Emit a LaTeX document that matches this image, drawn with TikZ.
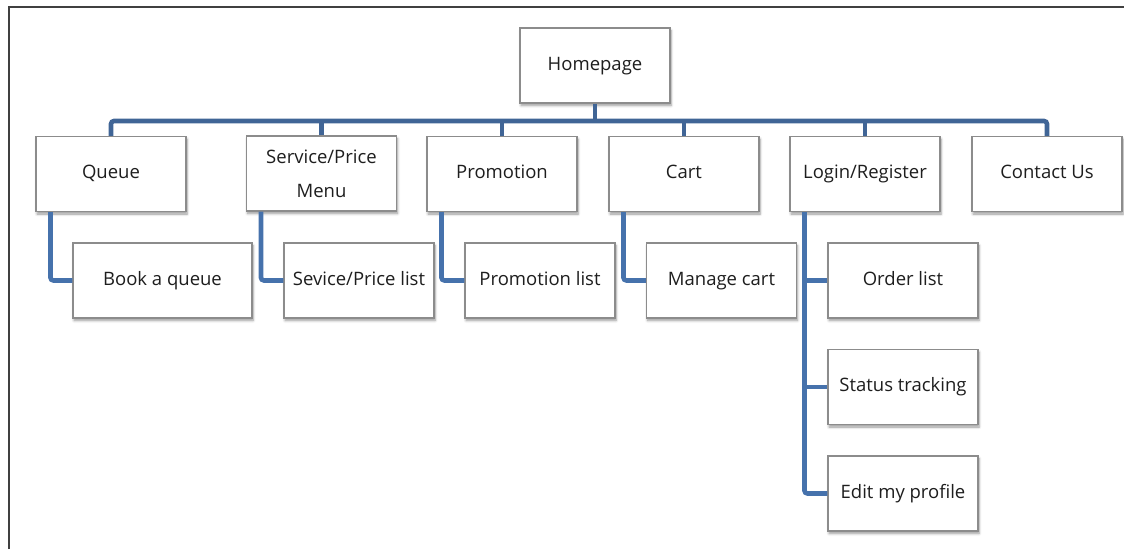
\documentclass[tikz,border=0pt]{standalone}
\usepackage{fontspec}
\setmainfont{Open Sans}
\usetikzlibrary{shadows.blur}
\definecolor{busblue}{RGB}{64,101,150}
\definecolor{subblue}{RGB}{70,114,172}
\definecolor{boxline}{RGB}{140,140,140}
\definecolor{ink}{RGB}{30,30,30}
\tikzset{
  page/.style={draw=boxline, line width=1.1pt, fill=white, inner sep=2pt,
    minimum width=150pt, minimum height=75pt, align=center, text=ink,
    text height=13.5pt, text depth=4pt,
    font=\fontsize{18.5}{34}\selectfont,
    blur shadow={shadow xshift=1pt, shadow yshift=-2.5pt, shadow blur radius=2.5pt,
      shadow blur steps=6, shadow opacity=40}},
  busline/.style={draw=busblue, line width=4.6pt, rounded corners=3pt},
  subline/.style={draw=subblue, line width=4.6pt, rounded corners=3pt},
  frame/.style={draw=black!75, line width=1.3pt}
}
\begin{document}
\begin{tikzpicture}[x=1pt, y=-1pt]
\useasboundingbox (0,0) rectangle (1124,549);
\draw[frame] (9,549) -- (9,7) -- (1124,7);

% top level
\node[page] (home) at (595,65.5) {Homepage};
\node[page] (queue) at (111,174) {Queue};
\node[page, text height=, text depth=] (service) at (321.5,173.5) {Service/Price\\Menu};
\node[page] (promo) at (502,174) {Promotion};
\node[page] (cart) at (684,174) {Cart};
\node[page] (login) at (865,174) {Login/Register};
\node[page] (contact) at (1047,174) {Contact Us};

% second level
\node[page, minimum width=179pt] (book) at (162.5,280.5) {Book a queue};
\node[page] (slist) at (359,280.5) {Sevice/Price list};
\node[page] (plist) at (540,280.5) {Promotion list};
\node[page] (mcart) at (721.5,280.5) {Manage cart};
\node[page] (order) at (903,280.5) {Order list};
\node[page] (status) at (903,387) {Status tracking};
\node[page] (edit) at (903,493.5) {Edit my profile};

% horizontal bus under the homepage
\coordinate (bus) at (595,121);
\draw[busline] (queue.north) |- (bus) -| (contact.north);
\draw[busline] (home.south) -- (home.south |- bus);
\foreach \n in {service,promo,cart,login}
  \draw[busline] (\n.north) -- (\n.north |- bus);

% branches to the sub pages
\draw[subline] ([xshift=15pt]queue.south west) |- (book.west);
\draw[subline] ([xshift=15pt]service.south west) |- (slist.west);
\draw[subline] ([xshift=15pt]promo.south west) |- (plist.west);
\draw[subline] ([xshift=15pt]cart.south west) |- (mcart.west);
\coordinate (lstub) at ([xshift=15pt]login.south west);
\draw[subline] (lstub) |- (edit.west);
\draw[subline] (lstub |- order.west) -- (order.west);
\draw[subline] (lstub |- status.west) -- (status.west);
\end{tikzpicture}
\end{document}
